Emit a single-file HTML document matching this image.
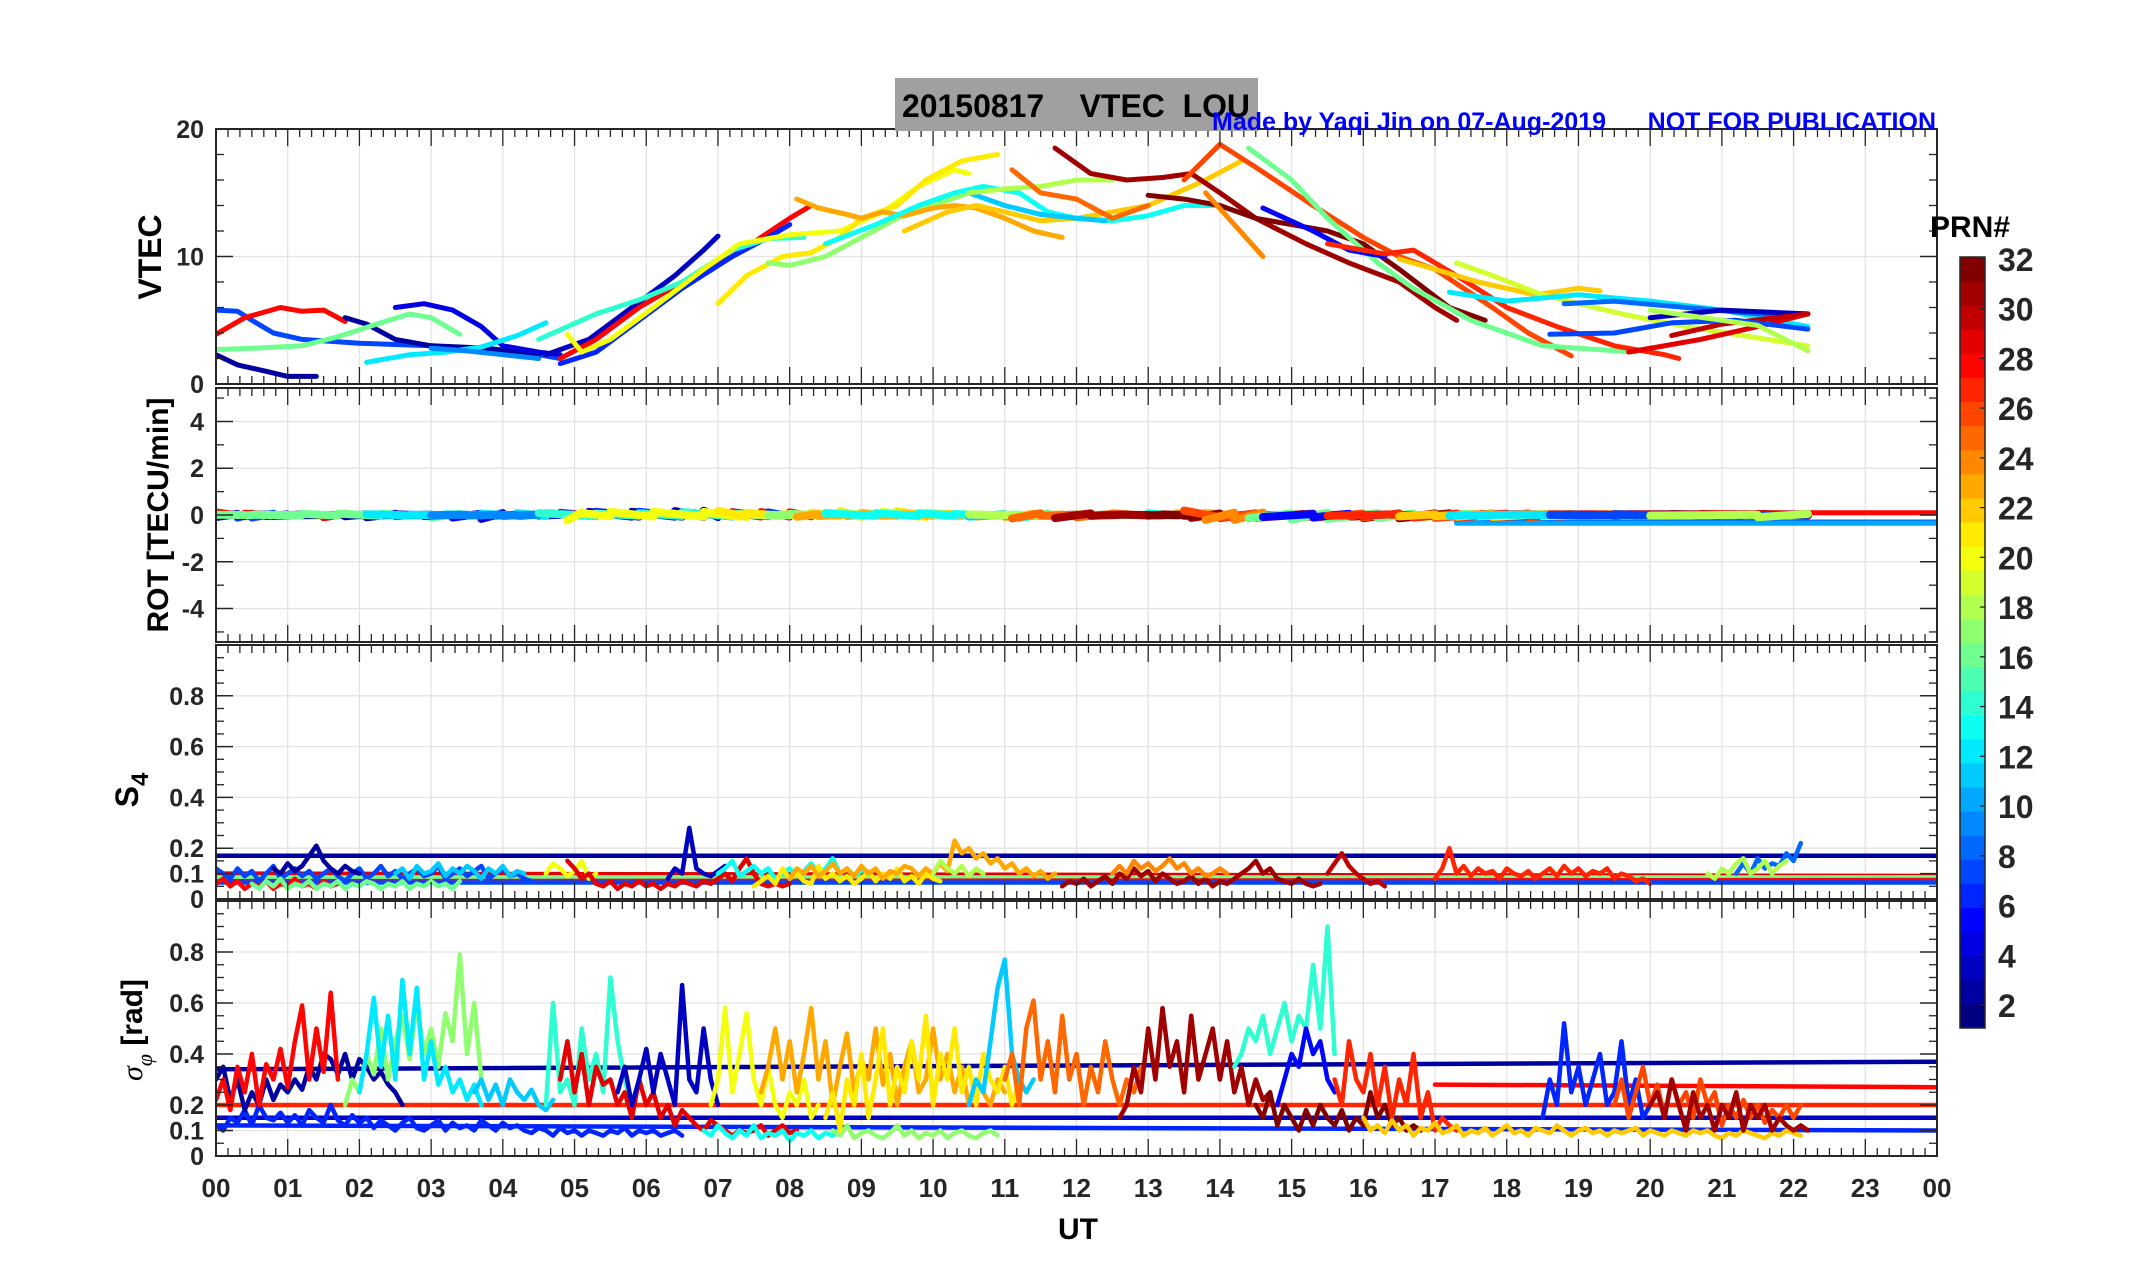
<!DOCTYPE html>
<html><head><meta charset="utf-8"><style>
html,body{margin:0;padding:0;background:#fff;}
svg{display:block;font-family:"Liberation Sans",sans-serif;}
</style></head><body>
<svg id="fig" width="2153" height="1286" viewBox="0 0 2153 1286" xmlns="http://www.w3.org/2000/svg">
<rect x="0" y="0" width="2153" height="1286" fill="#fff"/>
<g id="grid"></g><g id="series"></g><g id="axes"></g><g id="labels"></g>
<rect x="895" y="78" width="363" height="53" fill="#a0a0a0"/>
<text x="902" y="117" font-size="32" font-weight="bold" textLength="348" lengthAdjust="spacingAndGlyphs" xml:space="preserve">20150817    VTEC  LOU</text>
<text x="1212" y="130" font-size="25" font-weight="bold" fill="#0000ff" textLength="724" lengthAdjust="spacingAndGlyphs" xml:space="preserve">Made by Yaqi Jin on 07-Aug-2019      NOT FOR PUBLICATION</text>
<text transform="translate(161,257) rotate(-90)" text-anchor="middle" font-size="32" font-weight="bold">VTEC</text>
<text transform="translate(168,515) rotate(-90)" text-anchor="middle" font-size="30" font-weight="bold">ROT [TECU/min]</text>
<text transform="translate(138,790) rotate(-90)" text-anchor="middle" font-size="32" font-weight="bold">S<tspan font-size="24" dy="10">4</tspan></text>
<text transform="translate(142,1030) rotate(-90)" text-anchor="middle" font-size="30" font-weight="bold"><tspan font-family="Liberation Serif" font-style="italic" font-weight="normal">σ</tspan><tspan font-size="22" dy="10" font-family="Liberation Serif" font-style="italic" font-weight="normal">φ</tspan><tspan dy="-10"> [rad]</tspan></text>
<text x="1078" y="1239" text-anchor="middle" font-size="30" font-weight="bold">UT</text>
<text x="1930" y="237" font-size="30" font-weight="bold">PRN#</text>
<g id="cbar"></g>
</svg>
<script>
// ---------- data ----------
const hourTicks=["00","01","02","03","04","05","06","07","08","09","10","11","12","13","14","15","16","17","18","19","20","21","22","23","00"];
const cbarTicks=[2,4,6,8,10,12,14,16,18,20,22,24,26,28,30,32];
const vtecTicks=[0,10,20];
const rotTicks=[-4,-2,0,2,4];
const s4Ticks=[0,0.1,0.2,0.4,0.6,0.8];
const sigTicks=[0,0.1,0.2,0.4,0.6,0.8];
// VTEC arcs: [prn, [[hour,TECU],...]]
const vtecArcs=[
[7,[[0,5.8],[0.3,5.7],[0.5,5.0],[0.8,4.0],[1.2,3.5],[2,3.2],[3,3.0],[4,2.6],[4.5,2.3],[4.8,2.0]]],
[28,[[0,3.9],[0.4,5.2],[0.9,6.0],[1.2,5.7],[1.5,5.8],[1.8,4.9]]],
[2,[[1.8,5.2],[2.1,4.7],[2.5,3.5],[3.0,3.0],[3.8,2.8],[4.2,2.5],[4.5,2.2]]],
[2,[[0,2.3],[0.3,1.5],[0.7,1.0],[1.0,0.6],[1.4,0.6]]],
[16,[[0,2.7],[0.5,2.8],[1.2,3.0],[1.7,3.7],[2.3,4.8],[2.7,5.5],[3.0,5.2],[3.4,3.9]]],
[4,[[2.5,6.0],[2.9,6.3],[3.3,5.8],[3.7,4.5],[4.0,3.0],[4.5,2.5],[4.8,2.3]]],
[12,[[2.1,1.7],[2.7,2.3],[3.2,2.5],[3.7,2.9],[4.2,3.8],[4.6,4.8]]],
[9,[[3.0,2.8],[3.5,2.6],[4.0,2.3],[4.5,2.0]]],
[3,[[4.6,2.3],[5.2,3.5],[5.8,6.0],[6.4,8.5],[6.8,10.5],[7.0,11.6]]],
[28,[[4.8,2.0],[5.3,3.5],[5.9,6.0],[6.5,8.0],[7.2,10.0],[7.6,11.5],[8.0,13.0],[8.3,14.0]]],
[6,[[4.8,1.6],[5.3,2.5],[5.9,5.0],[6.5,7.5],[7.2,10.0],[7.7,11.5],[8.0,12.5]]],
[14,[[4.5,3.5],[5.3,5.5],[5.9,6.6],[6.5,8.0],[7.2,10.5],[7.7,11.4],[8.2,11.5]]],
[20,[[4.9,3.9],[5.1,2.5],[5.5,3.5],[6.1,6.0],[6.8,9.0],[7.3,11.0],[8.0,11.7],[8.7,12.0],[9.3,13.5],[9.8,15.5],[10.3,16.8],[10.5,16.5]]],
[21,[[7.0,6.3],[7.4,8.5],[7.9,10.0],[8.3,10.3],[8.7,11.5],[9.0,13.0],[9.5,14.0],[9.9,16.0],[10.4,17.5],[10.9,18.0]]],
[17,[[7.7,9.5],[8.0,9.3],[8.5,10.0],[9.0,11.5],[9.5,13.0],[10.0,14.0],[10.5,15.0]]],
[23,[[8.1,14.5],[8.4,13.8],[8.8,13.3],[9.0,13.0],[9.3,13.5],[9.6,13.2],[10.0,13.8],[10.3,14.0],[10.6,13.8],[11.0,13.0],[11.4,12.0],[11.8,11.5]]],
[22,[[9.6,12.0],[10.2,13.5],[10.6,14.0],[11.0,13.5],[11.5,12.8],[12.0,13.0],[12.5,13.5],[13.0,14.0],[13.4,15.0],[13.8,16.0],[14.3,17.5]]],
[13,[[8.5,11.0],[9.2,12.5],[9.8,14.0],[10.3,15.0],[10.7,15.5],[11.2,15.0],[11.6,13.5],[12.0,13.0],[12.5,12.8],[13.0,13.2],[13.5,14.0],[14.0,14.0],[14.5,13.0]]],
[11,[[10.5,15.0],[11.0,14.0],[11.5,13.3],[12.0,13.0],[12.4,12.8]]],
[18,[[10.5,15.0],[11.0,15.3],[11.5,15.5],[12.0,16.0],[12.5,16.0]]],
[25,[[11.1,16.8],[11.5,15.0],[12.0,14.5],[12.5,13.0],[13.0,14.0]]],
[31,[[11.7,18.5],[12.2,16.5],[12.7,16.0],[13.2,16.2],[13.6,16.5],[14.0,15.0],[14.5,13.0],[15.2,11.0],[15.8,9.5],[16.5,8.0],[17.0,6.0],[17.3,5.0]]],
[32,[[13.0,14.8],[13.5,14.5],[14.0,14.0],[14.5,13.0],[15.0,12.5],[15.5,12.0],[16.0,11.0],[16.5,9.0],[17.2,6.0],[17.7,5.0]]],
[26,[[13.5,16.0],[14.0,18.8],[14.5,17.0],[15.3,14.0],[16.0,11.5],[16.5,10.0],[17.0,9.0],[17.8,6.0],[18.3,4.0],[18.9,2.2]]],
[24,[[13.8,15.0],[14.2,12.5],[14.6,10.0]]],
[16,[[14.4,18.5],[15.0,16.0],[15.5,13.0],[16.2,9.5],[16.7,7.5],[17.5,5.0],[18.5,3.0],[19.0,2.8],[19.8,2.5]]],
[5,[[14.6,13.8],[15.3,12.0],[15.8,10.5],[16.3,10.0]]],
[27,[[15.5,11.0],[16.3,10.2],[16.7,10.5],[17.3,8.5],[18.0,6.0],[18.7,4.5],[19.5,3.0],[20.2,2.3],[20.4,2.0]]],
[22,[[16.5,9.8],[17.0,9.0],[17.6,8.0],[18.4,7.0],[19.0,7.5],[19.3,7.3]]],
[19,[[17.3,9.5],[17.8,8.5],[18.5,7.0],[19.6,5.5],[20.5,4.5],[21.3,3.8],[22.2,3.0]]],
[12,[[17.2,7.2],[18.0,6.5],[19.0,7.0],[20.0,6.5],[21.0,5.8],[22.2,4.5]]],
[8,[[18.8,6.3],[19.5,6.5],[20.5,6.0],[21.5,5.5],[22.2,5.5]]],
[3,[[20.0,5.2],[21.0,5.8],[22.2,5.5]]],
[29,[[19.7,2.5],[20.7,3.5],[21.5,4.5],[22.2,5.5]]],
[30,[[20.3,3.8],[21.0,4.7],[22.2,5.5]]],
[7,[[18.6,3.9],[19.5,4.0],[20.3,4.8],[21.2,5.0],[22.2,4.3]]],
[18,[[20.0,5.8],[21.5,4.6],[22.2,2.6]]]
];
// flat lines (ROT)
const rotFlat=[[28,17.3,24,0.1],[8,17.3,24,-0.3],[10,17.3,24,-0.35]];
// S4 arcs: [prn, startHour, values at 0.1 h]
const s4Arcs=[
[7,0,[0.12,0.1,0.08,0.12,0.09,0.11,0.07,0.1,0.13,0.08,0.1,0.12,0.09,0.11,0.08,0.1,0.12,0.09,0.07,0.1,0.12,0.08,0.1,0.13,0.09,0.11,0.08,0.1,0.12,0.09,0.1,0.13,0.08,0.1,0.12,0.09,0.11,0.13,0.08,0.1,0.12,0.09,0.1,0.08,0.07]],
[2,0.8,[0.12,0.1,0.14,0.11,0.13,0.17,0.21,0.15,0.12,0.1,0.13,0.11,0.1]],
[28,0,[0.06,0.08,0.05,0.07,0.04,0.06,0.05,0.07,0.04,0.06,0.05,0.08,0.05,0.06,0.04,0.07,0.05,0.06]],
[16,0.5,[0.06,0.04,0.07,0.05,0.08,0.04,0.06,0.05,0.07,0.04,0.06,0.05,0.07,0.04,0.06,0.05,0.07,0.06,0.04,0.06,0.05,0.07,0.04,0.06,0.05,0.07,0.05,0.06,0.04,0.07]],
[11,2.5,[0.1,0.12,0.08,0.13,0.1,0.11,0.14,0.09,0.12,0.1,0.13,0.11,0.08,0.12,0.1,0.13,0.09,0.11,0.1]],
[20,4.6,[0.1,0.14,0.12,0.09,0.11,0.15,0.08,0.1]],
[29,4.9,[0.15,0.12,0.08,0.1,0.06,0.05,0.07,0.04,0.06,0.05,0.07,0.05,0.06,0.04,0.06,0.05,0.07,0.06,0.05,0.07,0.06,0.08,0.1,0.07,0.12,0.16,0.1,0.06,0.05,0.06,0.05,0.06]],
[3,6.3,[0.08,0.12,0.1,0.28,0.12,0.1,0.09,0.11,0.13]],
[13,7.0,[0.1,0.12,0.15,0.09,0.11,0.13,0.1,0.12,0.08,0.1,0.12,0.09,0.11,0.14,0.1,0.12,0.16,0.1,0.12,0.09,0.11]],
[21,7.5,[0.05,0.07,0.09,0.06,0.12,0.08,0.1,0.07,0.06,0.13,0.08,0.1,0.07,0.09,0.06,0.08,0.11,0.07,0.1,0.08,0.12,0.07,0.09,0.06,0.1,0.08,0.07]],
[23,8.0,[0.08,0.12,0.1,0.13,0.09,0.11,0.14,0.1,0.12,0.09,0.13,0.1,0.12,0.08,0.11,0.1,0.13,0.12,0.09,0.12,0.1,0.14,0.11,0.23,0.18,0.2,0.16,0.18,0.14,0.16,0.12,0.14,0.1,0.12,0.09,0.11,0.08,0.1]],
[18,10,[0.1,0.15,0.12,0.1,0.13,0.09,0.12,0.1]],
[31,11.8,[0.05,0.07,0.06,0.08,0.05,0.07,0.09,0.06,0.1,0.08,0.12,0.09,0.11,0.07,0.1,0.08,0.06,0.07,0.09,0.06,0.08,0.05,0.07,0.06,0.08,0.1,0.12,0.15,0.1,0.12,0.08,0.07,0.06,0.08,0.06,0.05,0.06]],
[24,12.5,[0.1,0.13,0.1,0.15,0.12,0.14,0.11,0.13,0.16,0.12,0.14,0.1,0.12,0.09,0.1,0.12,0.1]],
[30,15.5,[0.1,0.14,0.18,0.13,0.1,0.08,0.06,0.07,0.05]],
[27,17.0,[0.08,0.12,0.2,0.1,0.13,0.09,0.12,0.1,0.11,0.08,0.12,0.1,0.09,0.11,0.08,0.1,0.12,0.09,0.13,0.1,0.12,0.09,0.11,0.1,0.12,0.08,0.1,0.09,0.07,0.08,0.06]],
[8,21.2,[0.1,0.14,0.1,0.16,0.12,0.14,0.13,0.18,0.15,0.22]],
[18,20.8,[0.1,0.08,0.12,0.1,0.14,0.16,0.1,0.12,0.15,0.1,0.13,0.15]]
];
const s4Flat=[[2,0,24,0.17,0.17],[29,0,24,0.1,0.09],[16,0,24,0.085,0.085],[28,0,24,0.07,0.075],[7,0,24,0.065,0.065]];
// sigma-phi arcs
const sigArcs=[
[6,0.0,[0.12,0.1,0.15,0.13,0.18,0.12,0.2,0.15,0.14,0.17,0.13,0.16,0.12,0.18,0.15,0.13,0.2,0.14,0.12,0.16,0.13,0.15,0.11,0.14,0.12,0.1,0.13,0.15,0.11,0.1,0.12,0.14,0.1,0.13,0.11,0.12,0.1,0.14,0.12,0.1,0.13,0.11,0.12,0.1,0.09,0.11,0.1,0.08,0.11,0.09,0.1,0.08,0.1,0.09,0.08,0.1,0.09,0.11,0.08,0.1,0.09,0.1,0.08,0.09,0.1,0.08]],
[2,0.0,[0.3,0.35,0.22,0.3,0.18,0.25,0.2,0.3,0.22,0.28,0.25,0.3,0.26,0.35,0.3,0.4,0.38,0.32,0.4,0.3,0.38,0.35,0.3,0.33,0.28,0.25,0.2]],
[28,0.0,[0.22,0.3,0.18,0.35,0.25,0.4,0.2,0.36,0.3,0.42,0.27,0.45,0.59,0.3,0.5,0.33,0.64,0.3]],
[17,1.8,[0.2,0.3,0.25,0.4,0.32,0.5,0.3,0.45,0.55,0.38,0.6,0.4,0.5,0.35,0.56,0.45,0.79,0.4,0.6,0.3]],
[12,2.0,[0.25,0.4,0.62,0.35,0.55,0.3,0.69,0.4,0.66,0.3,0.45,0.28,0.35,0.25,0.3,0.22,0.28,0.2]],
[11,3.6,[0.25,0.3,0.22,0.28,0.2,0.3,0.25,0.22,0.26,0.2,0.18,0.22]],
[14,4.6,[0.2,0.6,0.25,0.3,0.2,0.5,0.3,0.4,0.25,0.7,0.45,0.3,0.2]],
[29,4.8,[0.3,0.45,0.25,0.4,0.2,0.35,0.28,0.3,0.2,0.25,0.15,0.3,0.2,0.25,0.15,0.2,0.12,0.18,0.15,0.12,0.1,0.14,0.12,0.1,0.08,0.1,0.09,0.1,0.12,0.08,0.1,0.12,0.09,0.1]],
[3,5.6,[0.25,0.35,0.2,0.3,0.42,0.25,0.4,0.3,0.2,0.67,0.3,0.25,0.5,0.3,0.2]],
[13,6.8,[0.1,0.08,0.12,0.09,0.07,0.1,0.08,0.12,0.07,0.09,0.08,0.1,0.06,0.09,0.08,0.1,0.07,0.09,0.08,0.1]],
[20,6.9,[0.2,0.3,0.58,0.25,0.4,0.56,0.3,0.2,0.35,0.2,0.15,0.25,0.2,0.3,0.15,0.2]],
[23,7.6,[0.25,0.35,0.5,0.3,0.45,0.25,0.4,0.58,0.3,0.45,0.2,0.35,0.48,0.25,0.38,0.3,0.5,0.28,0.4,0.2,0.35,0.45,0.25,0.3,0.5,0.3,0.4,0.25,0.35,0.2,0.3,0.25,0.2,0.3,0.25]],
[17,8.6,[0.1,0.08,0.12,0.07,0.09,0.1,0.08,0.07,0.09,0.12,0.08,0.1,0.07,0.09,0.08,0.1,0.07,0.09,0.1,0.08,0.07,0.09,0.1,0.08]],
[21,8.5,[0.15,0.25,0.1,0.3,0.2,0.4,0.15,0.3,0.5,0.2,0.35,0.25,0.45,0.3,0.55,0.2,0.4,0.3,0.5,0.25,0.35,0.2,0.4,0.3,0.25,0.35,0.2,0.3]],
[11,10.5,[0.2,0.3,0.25,0.45,0.66,0.77,0.4,0.3,0.25,0.3]],
[25,11.0,[0.3,0.4,0.2,0.5,0.61,0.3,0.45,0.25,0.55,0.3,0.4,0.2,0.35,0.25,0.45,0.3,0.2,0.3,0.25,0.35]],
[31,12.6,[0.15,0.2,0.35,0.25,0.5,0.3,0.58,0.35,0.45,0.25,0.55,0.3,0.4,0.5,0.3,0.45,0.25,0.35,0.2,0.3,0.22,0.25]],
[14,14.2,[0.35,0.4,0.5,0.45,0.55,0.4,0.5,0.6,0.45,0.55,0.5,0.75,0.5,0.9,0.4]],
[5,14.8,[0.2,0.3,0.4,0.35,0.5,0.4,0.45,0.3,0.25]],
[32,14.5,[0.2,0.15,0.25,0.12,0.2,0.15,0.1,0.18,0.12,0.2,0.15,0.12,0.18,0.1,0.15,0.12,0.25,0.15,0.2,0.12,0.15,0.1,0.12,0.1]],
[27,15.6,[0.3,0.2,0.45,0.3,0.25,0.4,0.2,0.35,0.15,0.3,0.2,0.4,0.15,0.25,0.1,0.15,0.12,0.1]],
[22,16.0,[0.15,0.1,0.12,0.09,0.14,0.1,0.12,0.08,0.11,0.1,0.13,0.09,0.1,0.12,0.08,0.1,0.09,0.11,0.08,0.1,0.12,0.09,0.1,0.08,0.11,0.1,0.09,0.12,0.1,0.08,0.1,0.11,0.09,0.1,0.08,0.1,0.09,0.1,0.11,0.08,0.1,0.09,0.08,0.1,0.09,0.08,0.1,0.09,0.1,0.08,0.07,0.09,0.08,0.1,0.09,0.08,0.07,0.09,0.08,0.1,0.09,0.08]],
[6,18.5,[0.15,0.3,0.2,0.52,0.25,0.35,0.2,0.3,0.4,0.2,0.25,0.45,0.2,0.3,0.15,0.2]],
[26,19.5,[0.2,0.3,0.15,0.25,0.35,0.2,0.28,0.15,0.3,0.2,0.25,0.15,0.3,0.2,0.25,0.12,0.2,0.15,0.22,0.15,0.2,0.13,0.18,0.15,0.2,0.15,0.2]],
[31,20.0,[0.2,0.25,0.15,0.3,0.2,0.1,0.25,0.15,0.2,0.1,0.2,0.15,0.25,0.1,0.2,0.15,0.2,0.1,0.15,0.12,0.1,0.12,0.1]]
];
const sigFlat=[[2,0,24,0.34,0.37],[27,0,24,0.2,0.2],[3,0,24,0.15,0.15],[6,0,24,0.12,0.1],[28,17,24,0.28,0.27]];

// ---------- layout ----------
const X0=216,X1=1937;
const panels=[{t:129,b:384,min:0,max:20},{t:388,b:642,min:-5.43,max:5.43},{t:645,b:899,min:0,max:1},{t:901,b:1156,min:0,max:1}];
const NS="http://www.w3.org/2000/svg";
function xs(h){return X0+(X1-X0)*h/24;}
function ys(p,v){const P=panels[p];return P.b-(v-P.min)/(P.max-P.min)*(P.b-P.t);}
function jet(prn){const t=(prn-1)/31;const r=Math.min(1,Math.max(0,1.5-Math.abs(4*t-3))),g=Math.min(1,Math.max(0,1.5-Math.abs(4*t-2))),b=Math.min(1,Math.max(0,1.5-Math.abs(4*t-1)));return `rgb(${Math.round(r*255)},${Math.round(g*255)},${Math.round(b*255)})`;}
function mk(tag,attrs,parent){const e=document.createElementNS(NS,tag);for(const k in attrs)e.setAttribute(k,attrs[k]);parent.appendChild(e);return e;}
const G=document.getElementById('grid'),S=document.getElementById('series'),A=document.getElementById('axes'),L=document.getElementById('labels'),C=document.getElementById('cbar');
const svg=document.getElementById('fig');
const defs=mk('defs',{},svg);
panels.forEach((P,i)=>{const cp=mk('clipPath',{id:'clip'+i},defs);mk('rect',{x:X0,y:P.t,width:X1-X0,height:P.b-P.t},cp);});
const yTickSets=[vtecTicks,rotTicks,s4Ticks,sigTicks];
const yMinor=[[2,4,6,8,12,14,16,18],[-5,-3,-1,1,3,5],[0.05,0.15,0.25,0.3,0.35,0.45,0.5,0.55,0.65,0.7,0.75,0.85,0.9,0.95],[0.05,0.15,0.25,0.3,0.35,0.45,0.5,0.55,0.65,0.7,0.75,0.85,0.9,0.95]];
panels.forEach((P,i)=>{
  for(let h=1;h<24;h++){const g=mk('line',{x1:xs(h),x2:xs(h),y1:P.t,y2:P.b,stroke:'#e3e3e3','stroke-width':1.3},G);
    
    }
  yTickSets[i].forEach(v=>{const g=mk('line',{x1:X0,x2:X1,y1:ys(i,v),y2:ys(i,v),stroke:'#e3e3e3','stroke-width':1.3},G);
    
    
    const t=mk('text',{x:204,y:ys(i,v)+9,'text-anchor':'end','font-size':25,'font-weight':'bold',fill:'#262626'},L);
    t.textContent=String(v);
    
    
    mk('line',{x1:X0,x2:X0+17,y1:ys(i,v),y2:ys(i,v),stroke:'#262626','stroke-width':1.5},A);
    mk('line',{x1:X1-17,x2:X1,y1:ys(i,v),y2:ys(i,v),stroke:'#262626','stroke-width':1.5},A);});
  yMinor[i].forEach(v=>{mk('line',{x1:X0,x2:X0+8,y1:ys(i,v),y2:ys(i,v),stroke:'#262626','stroke-width':1.3},A);mk('line',{x1:X1-8,x2:X1,y1:ys(i,v),y2:ys(i,v),stroke:'#262626','stroke-width':1.3},A);});
  for(let m=0;m<=24*6;m++){const x=xs(m/6);const len=(m%6===0)?17:8;
    mk('line',{x1:x,x2:x,y1:P.t,y2:P.t+len,stroke:'#262626','stroke-width':1.3},A);
    mk('line',{x1:x,x2:x,y1:P.b-len,y2:P.b,stroke:'#262626','stroke-width':1.3},A);}
  const box=mk('rect',{x:X0,y:P.t,width:X1-X0,height:P.b-P.t,fill:'none',stroke:'#262626','stroke-width':2},A);
  
  
});
hourTicks.forEach((lab,i)=>{const t=mk('text',{x:xs(i),y:1197,'text-anchor':'middle','font-size':26,'font-weight':'bold',fill:'#262626',textLength:29,lengthAdjust:'spacingAndGlyphs'},L);
  t.textContent=lab;
  
  });
function gpanel(i){return mk('g',{'clip-path':`url(#clip${i})`},S);}
function poly(parent,pts,prn,w){const p=mk('polyline',{points:pts.map(q=>q[0].toFixed(1)+','+q[1].toFixed(1)).join(' '),fill:'none',stroke:jet(prn),'stroke-width':w,'stroke-linejoin':'round','stroke-linecap':'round'},parent);return p;}
const g0=gpanel(0),g1=gpanel(1),g2=gpanel(2),g3=gpanel(3);
vtecArcs.forEach(a=>{const p=poly(g0,a[1].map(q=>[xs(q[0]),ys(0,q[1])]),a[0],5);
  
  });
rotFlat.forEach(f=>{const p=poly(g1,[[xs(f[1]),ys(1,f[3])],[xs(f[2]),ys(1,f[3])]],f[0],5);
  
  });
vtecArcs.forEach(a=>{const pts=[];for(let k=1;k<a[1].length;k++){const d=(a[1][k][1]-a[1][k-1][1])/((a[1][k][0]-a[1][k-1][0])*60);pts.push([xs(a[1][k-1][0]),ys(1,d*2)]);pts.push([xs(a[1][k][0]),ys(1,-d)]);}
  const p=poly(g1,pts,a[0],8);
  
  });
function drawNoisy(g,i,arcs,flat,name){
  flat.forEach(f=>{const p=poly(g,[[xs(f[1]),ys(i,f[3])],[xs(f[2]),ys(i,f[4])]],f[0],4.5);
    
    });
  arcs.forEach(a=>{const p=poly(g,a[2].map((v,k)=>[xs(a[1]+k*0.1),ys(i,v)]),a[0],4.5);
    
    });
}
drawNoisy(g2,2,s4Arcs,s4Flat,'s4');
drawNoisy(g3,3,sigArcs,sigFlat,'sigma-phi');
const CB={x:1960,w:25,top:257,bot:1028};
const unit=(CB.bot-CB.top)/32;
for(let k=1;k<=32;k++){const r=mk('rect',{x:CB.x,y:CB.bot-k*unit,width:CB.w,height:unit+0.5,fill:jet(k)},C);
  
  }
const cbFrame=mk('rect',{x:CB.x,y:CB.top,width:CB.w,height:CB.bot-CB.top,fill:'none',stroke:'#262626','stroke-width':1.5},C);


cbarTicks.forEach(v=>{const y=1005-(v-2)*24.87;
  mk('line',{x1:CB.x+CB.w-5,x2:CB.x+CB.w,y1:y,y2:y,stroke:'#262626','stroke-width':1.3},C);
  const t=mk('text',{x:1998,y:y+12,'font-size':32,'font-weight':'bold',fill:'#262626'},C);
  t.textContent=String(v);
  
  });
</script>
</body></html>
